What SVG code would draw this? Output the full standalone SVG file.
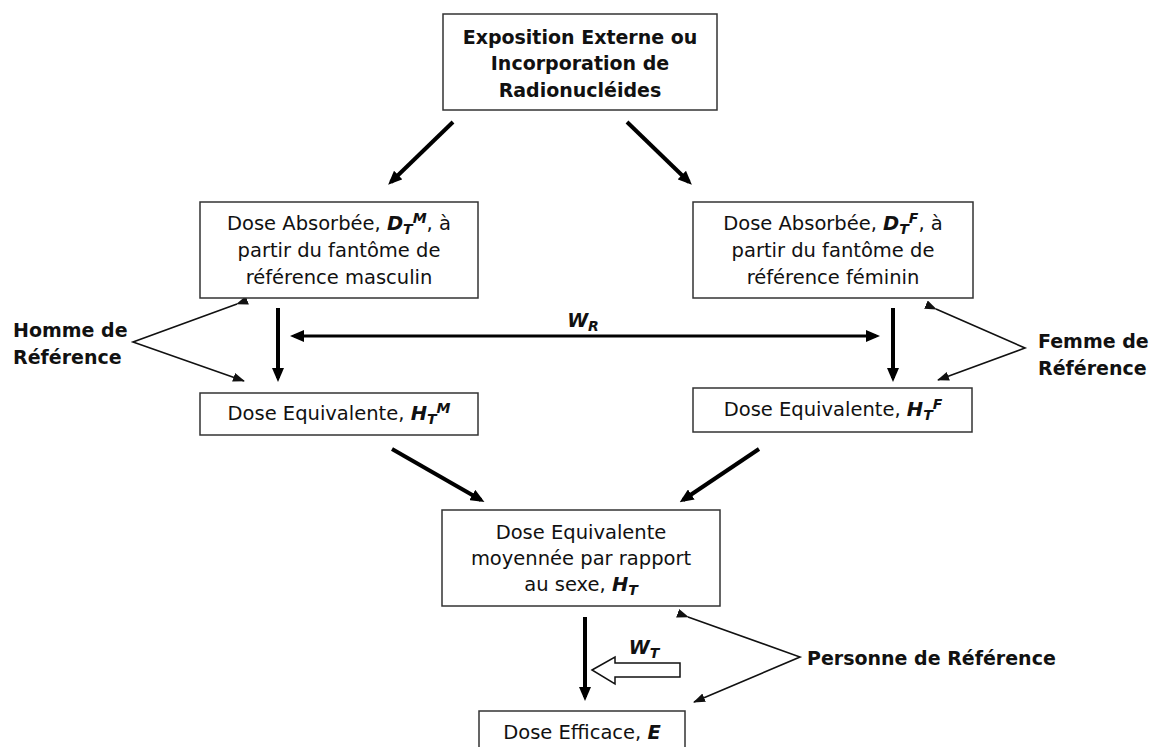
<svg xmlns="http://www.w3.org/2000/svg" width="1153" height="747" viewBox="0 0 1153 747">
<defs>
<style>
.box{fill:#fff;stroke:#333;stroke-width:1.5}
.t{font-family:"DejaVu Sans",Verdana,sans-serif;font-size:19.5px;fill:#111;text-anchor:middle}
.b{font-family:"DejaVu Sans",Verdana,sans-serif;font-size:19px;font-weight:bold;fill:#111}
.bi{font-weight:bold;font-style:italic}
.s{font-size:14px}
.thick{stroke:#000;stroke-width:4;fill:none}
.thin{stroke:#111;stroke-width:1.6;fill:none}
</style>
<marker id="ah" viewBox="0 0 14 12" markerWidth="14" markerHeight="12" refX="10" refY="6" orient="auto" markerUnits="userSpaceOnUse">
<path d="M0,0 L14,6 L0,12 z" fill="#000"/>
</marker>
<marker id="ahs" viewBox="0 0 14 12" markerWidth="14" markerHeight="12" refX="10" refY="6" orient="auto-start-reverse" markerUnits="userSpaceOnUse">
<path d="M0,0 L14,6 L0,12 z" fill="#000"/>
</marker>
<marker id="at" viewBox="0 0 12 9" markerWidth="12" markerHeight="9" refX="11" refY="4.5" orient="auto" markerUnits="userSpaceOnUse">
<path d="M0,0 L12,4.5 L0,9 z" fill="#111"/>
</marker>
</defs>
<rect width="1153" height="747" fill="#fff"/>

<g id="connectors">
<line class="thick" x1="453" y1="122" x2="391" y2="182" marker-end="url(#ah)"/>
<line class="thick" x1="627" y1="122" x2="689" y2="182" marker-end="url(#ah)"/>
<line class="thick" x1="278" y1="308" x2="278" y2="378" marker-end="url(#ah)"/>
<line class="thick" x1="893" y1="308" x2="893" y2="378" marker-end="url(#ah)"/>
<line class="thick" x1="392" y1="449" x2="481" y2="500" marker-end="url(#ah)"/>
<line class="thick" x1="759" y1="449" x2="683" y2="500" marker-end="url(#ah)"/>
<line class="thick" x1="585" y1="617" x2="585" y2="697" marker-end="url(#ah)"/>
<line class="thick" x1="294" y1="336" x2="876" y2="336" style="stroke-width:3" marker-start="url(#ahs)" marker-end="url(#ahs)"/>
<polyline class="thin" points="237,304 133,342 244,381" marker-start="url(#at)" marker-end="url(#at)"/>
<polyline class="thin" points="936,309 1025,348 938,380" marker-start="url(#at)" marker-end="url(#at)"/>
<polyline class="thin" points="688,617 800,657 694,702" marker-start="url(#at)" marker-end="url(#at)"/>
<polygon points="592,670 615,657 615,663 680,663 680,677 615,677 615,684" fill="#fff" stroke="#111" stroke-width="1.5"/>
<text x="583" y="327" class="b" text-anchor="middle"><tspan class="bi">W</tspan><tspan class="bi s" dy="4">R</tspan></text>
<text x="644" y="654" class="b" text-anchor="middle"><tspan class="bi">W</tspan><tspan class="bi s" dy="4">T</tspan></text>
</g>

<g id="n-exposition">
<rect class="box" x="443" y="14" width="274" height="96"/>
<text class="b" x="580" y="44" text-anchor="middle">Exposition Externe ou</text>
<text class="b" x="580" y="70" text-anchor="middle">Incorporation de</text>
<text class="b" x="580" y="97" text-anchor="middle">Radionucléides</text>
</g>

<g id="n-dose-abs-m">
<rect class="box" x="200" y="202" width="278" height="96"/>
<text class="t" x="339" y="230">Dose Absorbée, <tspan class="bi">D</tspan><tspan class="bi s" dy="4">T</tspan><tspan class="bi s" dy="-11">M</tspan><tspan dy="7">, à</tspan></text>
<text class="t" x="339" y="257">partir du fantôme de</text>
<text class="t" x="339" y="284">référence masculin</text>
</g>

<g id="n-dose-abs-f">
<rect class="box" x="693" y="202" width="280" height="96"/>
<text class="t" x="833" y="230">Dose Absorbée, <tspan class="bi">D</tspan><tspan class="bi s" dy="4">T</tspan><tspan class="bi s" dy="-11">F</tspan><tspan dy="7">, à</tspan></text>
<text class="t" x="833" y="257">partir du fantôme de</text>
<text class="t" x="833" y="284">référence féminin</text>
</g>

<g id="n-homme">
<text class="b" x="13" y="337" font-size="19.5">Homme de</text>
<text class="b" x="13" y="364" font-size="19.5">Référence</text>
</g>

<g id="n-femme">
<text class="b" x="1038" y="348" font-size="19.5">Femme de</text>
<text class="b" x="1038" y="375" font-size="19.5">Référence</text>
</g>

<g id="n-dose-eq-m">
<rect class="box" x="200" y="393" width="278" height="42"/>
<text class="t" x="339" y="420">Dose Equivalente, <tspan class="bi">H</tspan><tspan class="bi s" dy="4">T</tspan><tspan class="bi s" dy="-11">M</tspan></text>
</g>

<g id="n-dose-eq-f">
<rect class="box" x="693" y="388" width="279" height="44"/>
<text class="t" x="833" y="416">Dose Equivalente, <tspan class="bi">H</tspan><tspan class="bi s" dy="4">T</tspan><tspan class="bi s" dy="-11">F</tspan></text>
</g>

<g id="n-dose-eq-moy">
<rect class="box" x="442" y="510" width="278" height="96"/>
<text class="t" x="581" y="539">Dose Equivalente</text>
<text class="t" x="581" y="565">moyennée par rapport</text>
<text class="t" x="581" y="591">au sexe, <tspan class="bi">H</tspan><tspan class="bi s" dy="4">T</tspan></text>
</g>

<g id="n-personne">
<text class="b" x="807" y="665" font-size="19.5">Personne de Référence</text>
</g>

<g id="n-dose-eff">
<rect class="box" x="479" y="711" width="206" height="50"/>
<text class="t" x="582" y="739">Dose Efficace, <tspan class="bi">E</tspan></text>
</g>
</svg>
